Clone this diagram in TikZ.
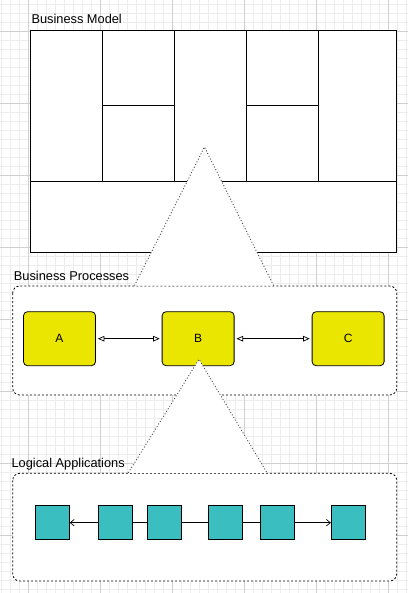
\documentclass[tikz,border=0pt]{standalone}
\usepackage{fontspec}
\setmainfont{Liberation Sans}
\usetikzlibrary{arrows.meta,positioning}
\definecolor{procyellow}{RGB}{235,230,0}
\definecolor{appteal}{RGB}{58,190,192}
\definecolor{gridminor}{RGB}{236,236,236}
\definecolor{gridmajor}{RGB}{208,208,208}
\tikzset{
  proc/.style={draw, line width=0.8pt, fill=procyellow, rounded corners=4pt,
    minimum width=72pt, minimum height=54pt, inner sep=0pt,
    font=\fontsize{12}{14}\selectfont},
  app/.style={draw, line width=0.8pt, fill=appteal, minimum size=34pt, inner sep=0pt},
  lane/.style={draw, line width=0.8pt, dash pattern=on 2pt off 2pt, fill=white, rounded corners=7pt},
  zoomlines/.style={black!70, line width=0.9pt, dash pattern=on 1pt off 2pt},
  title/.style={anchor=base west, inner sep=0pt, font=\fontsize{12.8}{15}\selectfont},
  flow/.style={line width=0.7pt, {Triangle[open,length=6.5pt,width=5.5pt]}-{Triangle[open,length=6.5pt,width=5.5pt]},
    shorten <=2pt, shorten >=2pt},
  call/.style={line width=0.7pt, -{Straight Barb[length=4pt,width=6.5pt]}},
}
\begin{document}
\begin{tikzpicture}[x=1pt, y=-1pt]
\useasboundingbox (0,0) rectangle (408,593);
    %grid
    \foreach \gx in {1,10,...,408} \draw[gridminor, line width=0.6pt] (\gx,0) -- (\gx,593);
    \foreach \gy in {4,13,...,593} \draw[gridminor, line width=0.6pt] (0,\gy) -- (408,\gy);
    \foreach \gx in {28,100,...,408} \draw[gridmajor, line width=0.8pt] (\gx,0) -- (\gx,593);
    \foreach \gy in {31,103,...,593} \draw[gridmajor, line width=0.8pt] (0,\gy) -- (408,\gy);

    %business model canvas
    \draw[fill=white, line width=0.9pt] (30,30) rectangle (396,252);
    \draw[line width=0.9pt] (30,181.3) -- (396,181.3)
          (102.3,30) -- (102.3,181.3)
          (174.3,30) -- (174.3,181.3)
          (246.3,30) -- (246.3,181.3)
          (318.3,30) -- (318.3,181.3)
          (102.3,105.3) -- (174.3,105.3)
          (246.3,105.3) -- (318.3,105.3);

    %business processes
    \draw[lane] (12.7,286) rectangle (396.7,395);
    \node[proc] (A) at (59.5,338.7) {A};
    \node[proc, right=65.8pt of A] (B) {B};
    \node[proc, right=77.2pt of B] (C) {C};
    \draw[flow] (A) -- (B);
    \draw[flow] (B) -- (C);

    %logical applications
    \draw[lane] (12.7,473.3) rectangle (396.7,581);
    \node[app] (app1) at (52.3,522.7) {};
    \node[app, right=28.2pt of app1] (app2) {};
    \node[app, right=14.2pt of app2] (app3) {};
    \node[app, right=26.2pt of app3] (app4) {};
    \node[app, right=17.2pt of app4] (app5) {};
    \node[app, right=36.2pt of app5] (app6) {};
    \draw[call] (app2) -- (app1);
    \draw[line width=0.7pt] (app2) -- (app3);
    \draw[line width=0.7pt] (app3) -- (app4);
    \draw[line width=0.7pt] (app4) -- (app5);
    \draw[call] (app5) -- (app6);

    %zoom triangles
    \coordinate (T1) at (204.5,147);
    \coordinate (T1l) at (134.5,285.5);
    \coordinate (T1r) at (273.5,285.5);
    \fill[white] (T1) -- (T1l) -- (T1r) -- cycle;
    \draw[zoomlines] (T1l) -- (T1) -- (T1r);
    \coordinate (T2) at (199,359.3);
    \coordinate (T2l) at (128.3,472.8);
    \coordinate (T2r) at (267,472.8);
    \fill[white] (T2) -- (T2l) -- (T2r) -- cycle;
    \draw[zoomlines] (T2l) -- (T2) -- (T2r);

    %titles
    \node[title] (bmtitle) at (31.3,24) {Business Model};
    \node[title] (bptitle) at (13.7,280.5) {Business Processes};
    \node[title] (latitle) at (11.4,467.3) {Logical Applications};
\end{tikzpicture}
\end{document}
